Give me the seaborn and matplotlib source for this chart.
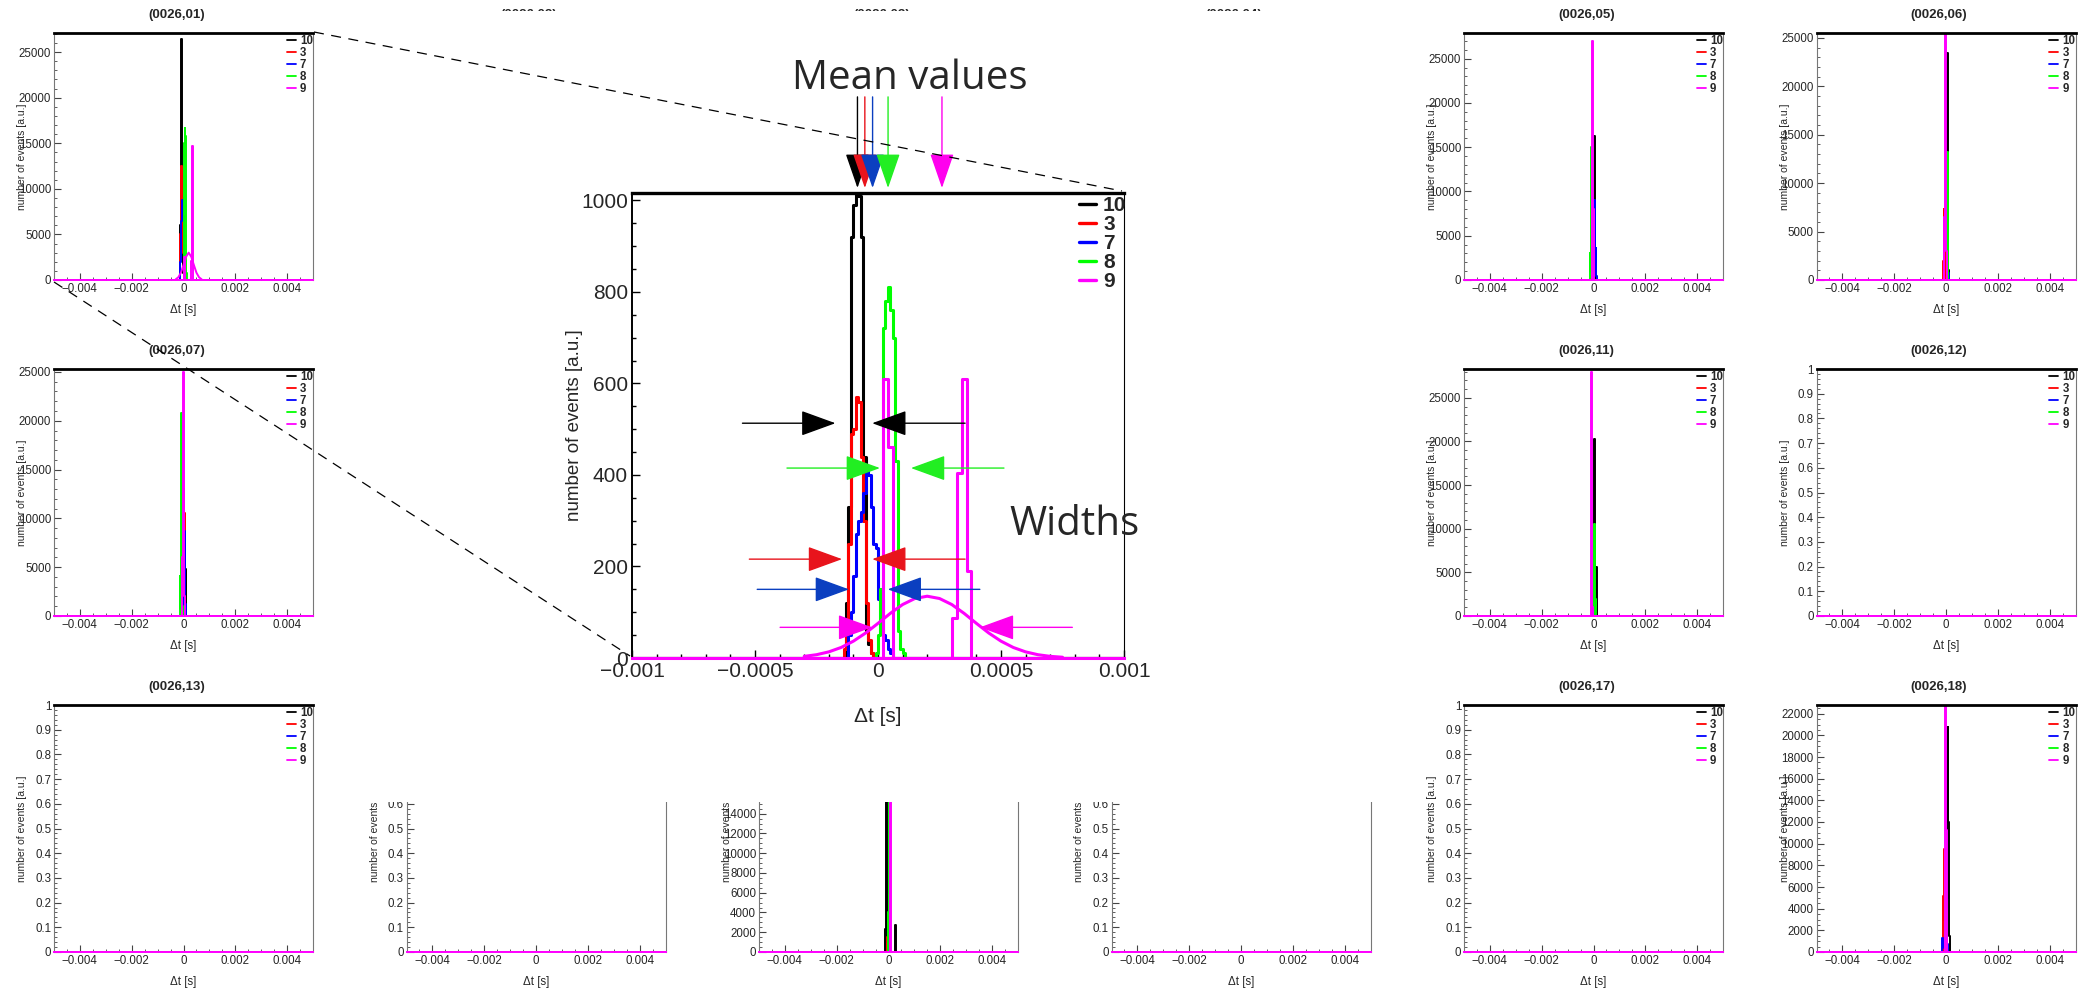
import numpy as np
import matplotlib
matplotlib.use("Agg")
import matplotlib.pyplot as plt
import seaborn as sns
from matplotlib.lines import Line2D
from matplotlib.patches import Rectangle
from matplotlib.ticker import MultipleLocator, FuncFormatter

# ---------------- data ----------------
channels = ["10", "3", "7", "8", "9"]
colors = ["#000000", "#ff0000", "#0000ff", "#00ff00", "#ff00ff"]

SMALL_BIN = 2e-5   # bin width of the overview histograms [s]

# each entry: left edge of first filled bin, counts per bin
p01 = {"10": (-0.00012, [6000, 22000, 26400, 21000, 9000, 800]),
       "3": (-0.00014, [1500, 5000, 10000, 12500, 11800, 9000, 3000, 500]),
       "7": (-0.00012, [2000, 4500, 6500, 7500, 8800, 7000, 5000, 2500, 1000, 300]),
       "8": (0.0, [1500, 15000, 16700, 15800, 6800, 800]),
       "9": (0.00002, [2500, 1800] + [0] * 12 + [2100, 10000, 14700, 4500])}
fit01_x = [-0.0003, -0.0002, -0.0001, 0.0, 0.0001, 0.0002, 0.0003, 0.0004, 0.0005, 0.0006, 0.0007]
fit01_y = [80, 300, 800, 1650, 2550, 3000, 2550, 1650, 800, 300, 80]

p05 = {"10": (-0.00002, [5000, 15600, 16300, 3000]),
       "3": (-0.00004, [2500, 5000, 1500]),
       "7": (0.00002, [9000, 6700, 2000, 3600, 500]),
       "8": (-0.00014, [3000, 1000, 8000, 15000, 4000]),
       "9": (-0.00006, [4000, 27000, 8000, 1000])}

p06 = {"10": (0.00002, [17200, 23400, 9000, 1000]),
       "3": (-0.0001, [2000, 7300, 4000, 1500, 500]),
       "7": (0.00004, [2000, 6000, 700, 700]),
       "8": (0.00002, [6000, 13200, 3000]),
       "9": (-0.00008, [1000, 6500, 16500, 26000, 3000])}

p07 = {"10": (0.00006, [4800, 2000]),
       "3": (-0.00002, [10500, 13000, 10500, 4900, 1000]),
       "7": (0.0, [3000, 8700, 4000, 1200, 500]),
       "8": (-0.00014, [4100, 800, 6000, 20800, 9000, 1000]),
       "9": (-0.00004, [6000, 25000, 12000, 2000])}

p11 = {"10": (0.0, [8000, 20300, 9000, 3000, 1500, 5600, 500]),
       "3": (-0.00006, [1500, 3000, 1500]),
       "7": (-0.00002, [1000, 4700, 1500]),
       "8": (0.00002, [10500, 8800, 2000]),
       "9": (-0.0001, [3000, 28000, 6000, 1000])}

p15 = {"10": (-0.00012, [2300, 7700, 24000, 9000, 1000] + [0] * 14 + [2700, 700, 0]),
       "3": (-0.00004, [1500, 3500, 1000]),
       "7": (0.0, [1000, 2500, 800]),
       "8": (-0.00002, [4000, 22000, 6000, 1000]),
       "9": (0.00004, [3000, 24500, 4000])}

p18 = {"10": (0.00004, [5000, 20800, 12000, 9300, 1500]),
       "3": (-0.00012, [1500, 5200, 3000, 9500, 6000, 1000]),
       "7": (-0.00014, [1300, 900, 600, 500, 400, 300, 300, 400, 600, 700, 200]),
       "8": (-0.00004, [2000, 5500, 4000, 1500]),
       "9": (-0.00004, [2000, 23500, 11300, 1500])}

empty = {}

# title, row, col, data, ymax, major, minor
panels = [("(0026,01)", 0, 0, p01, 27100, 5000, 1000),
          ("(0026,05)", 0, 4, p05, 27900, 5000, 1000),
          ("(0026,06)", 0, 5, p06, 25500, 5000, 1000),
          ("(0026,07)", 1, 0, p07, 25300, 5000, 1000),
          ("(0026,11)", 1, 4, p11, 28300, 5000, 1000),
          ("(0026,12)", 1, 5, empty, 1, 0.1, 0.02),
          ("(0026,13)", 2, 0, empty, 1, 0.1, 0.02),
          ("(0026,14)", 2, 1, empty, 1, 0.1, 0.02),
          ("(0026,15)", 2, 2, p15, 25000, 2000, 500),
          ("(0026,16)", 2, 3, empty, 1, 0.1, 0.02),
          ("(0026,17)", 2, 4, empty, 1, 0.1, 0.02),
          ("(0026,18)", 2, 5, p18, 22800, 2000, 500)]
hidden_titles = [("(0026,02)", 1), ("(0026,03)", 2), ("(0026,04)", 3)]

# zoomed view of (0026,01), 1e-5 s bins
ZOOM_BIN = 1e-5
z_black = (-0.00013, [120, 330, 920, 990, 1020, 1010, 920, 440, 60, 30, 10])
z_red = (-0.00014, [20, 80, 250, 490, 500, 570, 560, 440, 300, 120, 40, 10])
z_blue = (-0.00012, [50, 100, 180, 270, 300, 320, 360, 410, 400, 330, 250, 240,
                     130, 130, 50, 40, 20, 10])
z_green = (-0.00001, [10, 50, 150, 720, 780, 810, 760, 700, 430, 60, 20, 10])
z_magenta = (0.00002, [610, 610, 460, 460] + [0] * 24 + [88, 88, 405, 405, 610, 610, 190, 190])
zoom_sets = [z_black, z_red, z_blue, z_green, z_magenta]
fit_x = [-0.0003, -0.00025, -0.0002, -0.00015, -0.0001, -0.00005, 0.0, 0.00005, 0.0001,
         0.00015, 0.0002, 0.00025, 0.0003, 0.00035, 0.0004, 0.00045, 0.0005, 0.00055,
         0.0006, 0.00065, 0.0007, 0.00075]
fit_y = [3.6, 7.2, 13.4, 23, 36.8, 54.7, 75.7, 97.5, 116.8, 130, 135, 130, 116.8, 97.5,
         75.7, 54.7, 36.8, 23, 13.4, 7.2, 3.6, 1.7]

# mean value markers and width (left tip, right tip, left tail, right tail, height)
means = [-0.0000835, -0.0000535, -0.000022, 0.0000409, 0.00026]
mean_cols = ["#000000", "#e8141c", "#0b3fc0", "#22ee22", "#ff00ee"]
widths = [(-0.000173, -0.0000236, -0.000551, 0.000354, 513),
          (-0.000146, -0.0000236, -0.000523, 0.000354, 216),
          (-0.000118, 0.0000394, -0.000491, 0.000414, 150),
          (0.0000079, 0.000134, -0.00037, 0.000512, 415),
          (-0.0000236, 0.000414, -0.000398, 0.00079, 67)]

# ---------------- figure ----------------
sns.set_style("ticks")
plt.rcParams["font.family"] = ["Liberation Sans", "DejaVu Sans"]
plt.rcParams["axes.unicode_minus"] = True

W, H = 2090, 991
fig = plt.figure(figsize=(W / 100, H / 100), dpi=100)
fig.patch.set_facecolor("white")


def box(x0, y0, x1, y1):
    return [x0 / W, 1 - y1 / H, (x1 - x0) / W, (y1 - y0) / H]


fmt = FuncFormatter(lambda v, p: ("%g" % round(v, 6)).replace("-", "\u2212"))


def draw_hist(ax, start, counts, width, color, lw):
    inner = start + width * np.arange(len(counts) + 1)
    edges = np.concatenate([[-0.005], inner, [0.005]])
    wts = np.concatenate([[0], counts, [0]]).astype(float)
    centers = (edges[:-1] + edges[1:]) / 2
    sns.histplot(x=centers, weights=wts, bins=list(edges), element="step", fill=False,
                 color=color, linewidth=lw, ax=ax)


PX0, PY0, DX, DY, PW, PH = 54, 33, 352.5, 336, 259, 247


def title_at(x0, y0, title):
    fig.text((x0 + PW / 2 - 7) / W, 1 - (y0 - 18) / H, title, ha="center", va="center",
             fontsize=9.5, weight="bold")


for title, r, c, data, ymax, major, minor in panels:
    x0 = PX0 + DX * c
    y0 = PY0 + DY * r
    ax = fig.add_axes(box(x0, y0, x0 + PW, y0 + PH))
    for ch, col in zip(channels, colors):
        start, counts = data.get(ch, (0.0, []))
        draw_hist(ax, start, counts, SMALL_BIN, col, 1.4)
    if data is p01:
        sns.lineplot(x=fit01_x, y=fit01_y, color="#ff00ff", lw=1.4, ax=ax)
    ax.set_xlim(-0.005, 0.005)
    ax.set_ylim(0, ymax)
    ax.xaxis.set_major_locator(MultipleLocator(0.002))
    ax.xaxis.set_minor_locator(MultipleLocator(0.0005))
    ax.yaxis.set_major_locator(MultipleLocator(major))
    ax.yaxis.set_minor_locator(MultipleLocator(minor))
    ax.xaxis.set_major_formatter(fmt)
    ax.yaxis.set_major_formatter(fmt)
    ax.tick_params(which="both", direction="in", labelsize=8.3, pad=2, color="#444")
    ax.tick_params(which="major", length=5, width=0.8)
    ax.tick_params(which="minor", length=2.5, width=0.6)
    ax.spines["top"].set_linewidth(2)
    ax.spines["top"].set_color("black")
    for s in ("left", "right"):
        ax.spines[s].set_linewidth(0.8)
        ax.spines[s].set_color("#777777")
    ax.spines["bottom"].set_color("#ff00ff")
    ax.spines["bottom"].set_linewidth(1.4)
    ax.set_xlabel("\u0394t [s]", fontsize=8.3)
    ax.xaxis.set_label_coords(0.5, -24 / PH)
    ax.set_ylabel("number of events [a.u.]", fontsize=7.5)
    ax.yaxis.set_label_coords(-27 / PW, 0.5)
    handles = [Line2D([], [], color=col, lw=1.3) for col in colors]
    ax.legend(handles, channels, loc="upper right", bbox_to_anchor=(1.0, 1 - 2 / PH),
              frameon=False, prop={"size": 8.3, "weight": "bold"}, handlelength=0.8,
              handletextpad=0.35, labelspacing=0.0, borderpad=0, borderaxespad=0)
    title_at(x0, y0, title)

for title, c in hidden_titles:
    title_at(PX0 + DX * c, PY0, title)

# white sheet the zoom sits on
fig.add_artist(Rectangle((368 / W, 1 - 802 / H), (1390 - 368) / W, (802 - 11) / H,
                         transform=fig.transFigure, facecolor="white", edgecolor="none",
                         zorder=4))

# ---------------- zoomed inset ----------------
IX0, IY0, IX1, IY1 = 632, 193, 1124, 658
ax_in = fig.add_axes(box(IX0, IY0, IX1, IY1), zorder=5)
for (start, counts), col in zip(zoom_sets, colors):
    draw_hist(ax_in, start, counts, ZOOM_BIN, col, 2.2)
sns.lineplot(x=fit_x, y=fit_y, color="#ff00ff", lw=2.2, ax=ax_in)
ax_in.set_xlim(-0.001, 0.001)
ax_in.set_ylim(0, 1016)
ax_in.xaxis.set_major_locator(MultipleLocator(0.0005))
ax_in.xaxis.set_minor_locator(MultipleLocator(0.0001))
ax_in.yaxis.set_major_locator(MultipleLocator(200))
ax_in.yaxis.set_minor_locator(MultipleLocator(50))
ax_in.xaxis.set_major_formatter(fmt)
ax_in.yaxis.set_major_formatter(fmt)
ax_in.tick_params(which="both", direction="in", labelsize=15, pad=3, color="black")
ax_in.tick_params(which="major", length=6, width=1)
ax_in.tick_params(which="minor", length=3, width=1)
ax_in.spines["top"].set_linewidth(2.4)
ax_in.spines["left"].set_linewidth(1.4)
ax_in.spines["right"].set_linewidth(0.8)
ax_in.spines["bottom"].set_color("#ff00ff")
ax_in.spines["bottom"].set_linewidth(2.2)
for s in ("top", "left", "right"):
    ax_in.spines[s].set_color("black")
ax_in.set_xlabel("\u0394t [s]", fontsize=15)
ax_in.xaxis.set_label_coords(0.5, -49 / 465)
ax_in.set_ylabel("number of events [a.u.]", fontsize=13.5)
ax_in.yaxis.set_label_coords(-49 / 492, 0.5)
handles = [Line2D([], [], color=col, lw=2.4) for col in colors]
ax_in.legend(handles, channels, loc="upper right", bbox_to_anchor=(1.005, 1 - 3 / 465),
             frameon=False, prop={"size": 15, "weight": "bold"}, handlelength=0.8,
             handletextpad=0.35, labelspacing=0.0, borderpad=0, borderaxespad=0)

# mean value arrows above the frame
for m, col in zip(means, mean_cols):
    ax_in.annotate("", xy=(m, 1027), xytext=(m, 1226), annotation_clip=False,
                   arrowprops=dict(arrowstyle="-|>,head_length=1.1,head_width=0.38",
                                   color=col, lw=1.0, shrinkA=0, shrinkB=0,
                                   mutation_scale=20))
# width arrows pointing inwards
for (lt, rt, ltail, rtail, yv), col in zip(widths, mean_cols):
    for tip, tail in ((lt, ltail), (rt, rtail)):
        ax_in.annotate("", xy=(tip, yv), xytext=(tail, yv), annotation_clip=False,
                       arrowprops=dict(arrowstyle="-|>,head_length=1.1,head_width=0.4",
                                       color=col, lw=1.0, shrinkA=0, shrinkB=0,
                                       mutation_scale=20))

fig.text(792 / W, 1 - 89 / H, "Mean values", fontsize=29, family=["Open Sans", "DejaVu Sans"],
         ha="left", va="baseline", zorder=6)
fig.text(1009 / W, 1 - 535 / H, "Widths", fontsize=29, family=["Open Sans", "DejaVu Sans"],
         ha="left", va="baseline", zorder=6)

# dashed zoom guides from (0026,01) to the inset
for (xa, ya), (xb, yb) in (((314, 32), (1122, 191)), ((54, 282), (630, 656))):
    fig.add_artist(Line2D([xa / W, xb / W], [1 - ya / H, 1 - yb / H], transform=fig.transFigure,
                          color="black", lw=0.9, linestyle=(0, (8, 6)), zorder=6))

fig.savefig("out.png", dpi=100, facecolor="white")
